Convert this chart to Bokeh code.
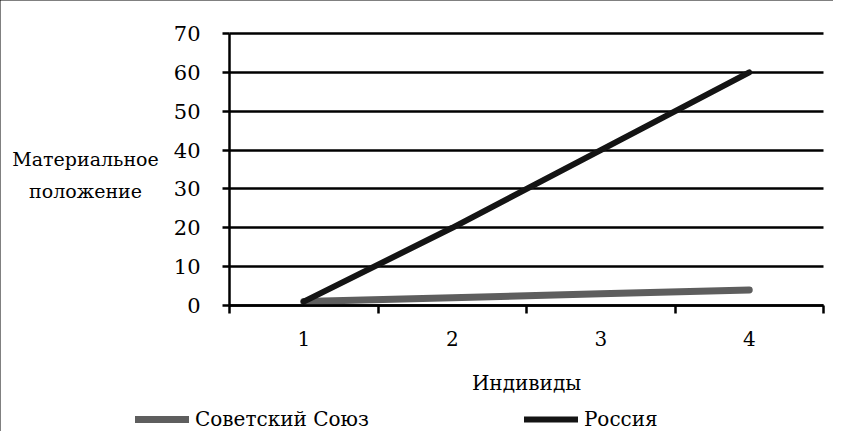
from bokeh.plotting import figure
from bokeh.models import Range1d, FixedTicker, Legend, LegendItem, Label
from bokeh.embed import file_html
from bokeh.resources import INLINE

categories = [1, 2, 3, 4]
soviet = [1, 2, 3, 4]
russia = [1, 20, 40, 60]
y_ticks = [0, 10, 20, 30, 40, 50, 60, 70]
x_label = "Индивиды"
y_label_lines = ["Материальное", "положение"]
series_names = ["Советский Союз", "Россия"]
colors = ["#5e5e5e", "#141414"]
widths = [7, 6]

FONT = "DejaVu Serif"

# canvas and plotting-area geometry (pixels)
W, H = 833, 431
AX_L, AX_R, AX_T, AX_B = 229, 823, 33, 305
X0, X1 = 0.5, 4.5       # category band edges
Y0, Y1 = 0, 70
sx = (AX_R - AX_L) / (X1 - X0)
sy = (AX_B - AX_T) / (Y1 - Y0)
x_range = Range1d(X0 - AX_L / sx, X1 + (W - AX_R) / sx)
y_range = Range1d(Y0 - (H - AX_B) / sy, Y1 + AX_T / sy)

p = figure(width=W, height=H, output_backend="svg", toolbar_location=None,
           x_range=x_range, y_range=y_range,
           min_border_left=0, min_border_right=0, min_border_top=0, min_border_bottom=0)
p.styles = {"outline": "3px solid black", "outline-offset": "-3px"}
p.outline_line_color = None
p.background_fill_color = "white"
p.border_fill_color = "white"

# grid
p.xgrid.grid_line_color = None
p.ygrid.ticker = FixedTicker(ticks=y_ticks)
p.ygrid.grid_line_color = "black"
p.ygrid.grid_line_width = 2.5
p.ygrid.bounds = (Y0, Y1)
p.ygrid.cross_bounds = (X0, X1)

# y axis
p.yaxis.fixed_location = X0
p.yaxis.bounds = (Y0, Y1)
p.yaxis.ticker = FixedTicker(ticks=y_ticks)
p.yaxis.axis_line_width = 2.5
p.yaxis.major_tick_line_width = 2.5
p.yaxis.major_tick_out = 7
p.yaxis.major_tick_in = 0
p.yaxis.minor_tick_line_color = None
p.yaxis.major_label_standoff = 22
p.yaxis.major_label_text_font = FONT
p.yaxis.major_label_text_font_size = "21px"
p.yaxis.major_label_text_color = "black"

# x axis
p.xaxis.fixed_location = Y0
p.xaxis.bounds = (X0, X1)
p.xaxis.ticker = FixedTicker(ticks=categories, minor_ticks=[0.5, 1.5, 2.5, 3.5, 4.5])
p.xaxis.axis_line_width = 2.5
p.xaxis.major_tick_out = 0
p.xaxis.major_tick_in = 0
p.xaxis.minor_tick_out = 8
p.xaxis.minor_tick_in = 0
p.xaxis.minor_tick_line_width = 2.5
p.xaxis.minor_tick_line_color = "black"
p.xaxis.major_label_standoff = 17
p.xaxis.major_label_text_font = FONT
p.xaxis.major_label_text_font_size = "20px"
p.xaxis.major_label_text_color = "black"
p.xaxis.axis_label = x_label
p.xaxis.axis_label_text_font = FONT
p.xaxis.axis_label_text_font_size = "20px"
p.xaxis.axis_label_text_font_style = "normal"
p.xaxis.axis_label_text_color = "black"
p.xaxis.axis_label_standoff = 22

# y-axis title: two centred horizontal lines (screen px from bottom-left)
for txt, ypix in zip(y_label_lines, [158, 190]):
    p.add_layout(Label(x=85, y=H - ypix, x_units="screen", y_units="screen",
                       text=txt, text_font=FONT, text_font_size="19px",
                       text_color="black", text_align="center", text_baseline="middle"))

r1 = p.line(categories, soviet, line_color=colors[0], line_width=widths[0], line_cap="round")
r2 = p.line(categories, russia, line_color=colors[1], line_width=widths[1], line_cap="round")

legend = Legend(items=[LegendItem(label=series_names[0], renderers=[r1]),
                       LegendItem(label=series_names[1], renderers=[r2])],
                orientation="horizontal", location=(135, 0),
                glyph_width=54, glyph_height=22, label_standoff=6, spacing=155,
                padding=0, margin=0, border_line_color=None, background_fill_alpha=0,
                label_text_font=FONT, label_text_font_size="20px", label_text_color="black")
p.add_layout(legend)

open("out.html", "w").write(file_html(p, INLINE))
